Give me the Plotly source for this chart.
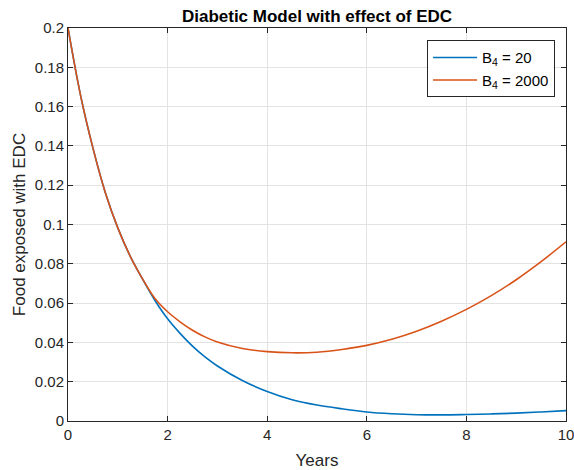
import plotly.graph_objects as go

# Food exposed with EDC over time, for two values of B4
years = [0, 0.25, 0.5, 0.75, 1.0, 1.25, 1.5, 1.75, 2.0, 2.25, 2.5, 2.75, 3.0,
         3.5, 4.0, 4.5, 5.0, 5.5, 6.0, 6.5, 7.0, 7.5, 8.0, 8.5, 9.0, 9.5, 10.0]

food_b20 = [0.2, 0.166, 0.139, 0.1162, 0.0983, 0.0838, 0.0721, 0.0612, 0.0520, 0.0446,
            0.0381, 0.0326, 0.0280, 0.0206, 0.0150, 0.0108, 0.0081, 0.0062, 0.0046,
            0.0037, 0.0032, 0.0031, 0.0033, 0.0036, 0.0040, 0.0046, 0.0053]

food_b2000 = [0.2, 0.166, 0.139, 0.1162, 0.0983, 0.0838, 0.0722, 0.0622, 0.0556, 0.0505,
              0.0462, 0.0428, 0.0402, 0.0369, 0.0353, 0.0347, 0.0350, 0.0364, 0.0385,
              0.0416, 0.0457, 0.0508, 0.0568, 0.0638, 0.0719, 0.0811, 0.0912]

x_ticks = [0, 2, 4, 6, 8, 10]
y_ticks = [0, 0.02, 0.04, 0.06, 0.08, 0.1, 0.12, 0.14, 0.16, 0.18, 0.2]
y_tick_text = ["0", "0.02", "0.04", "0.06", "0.08", "0.1", "0.12", "0.14", "0.16", "0.18", "0.2"]

FONT = "Liberation Sans, Arial, Helvetica, sans-serif"
INK = "#262626"
GRID = "#e3e3e3"

fig = go.Figure()
fig.add_trace(go.Scatter(
    x=years, y=food_b20, mode="lines", name="B<sub>4</sub> = 20",
    line=dict(color="#0072BD", width=1.6, shape="spline", smoothing=1.0),
))
fig.add_trace(go.Scatter(
    x=years, y=food_b2000, mode="lines", name="B<sub>4</sub> = 2000",
    line=dict(color="#D95319", width=1.6, shape="spline", smoothing=1.0),
))

axis_common = dict(
    showline=True, linecolor=INK, linewidth=1, mirror="ticks",
    ticks="inside", ticklen=5, tickcolor=INK, tickwidth=1,
    showgrid=True, gridcolor=GRID, gridwidth=1, zeroline=False,
    tickfont=dict(family=FONT, size=15, color=INK),
    ticklabeloverflow="allow", automargin=False,
)

fig.update_layout(
    width=574, height=470,
    margin=dict(l=68, r=8, t=28, b=49),
    paper_bgcolor="white", plot_bgcolor="white",
    font=dict(family=FONT, color=INK),
    title=dict(
        text="<b>Diabetic Model with effect of EDC</b>",
        x=(68 + 566) / 2 / 574, xanchor="center", y=1 - 16.5 / 470, yanchor="middle",
        font=dict(family=FONT, size=17, color="black"),
        automargin=False,
    ),
    xaxis=dict(
        range=[0, 10], tickvals=x_ticks,
        title=dict(text="Years", font=dict(family=FONT, size=17, color=INK), standoff=12),
        **axis_common,
    ),
    yaxis=dict(
        range=[0, 0.2], tickvals=y_ticks, ticktext=y_tick_text,
        title=dict(text="Food exposed with EDC", font=dict(family=FONT, size=17, color=INK), standoff=4),
        **axis_common,
    ),
    legend=dict(
        x=0.978, xanchor="right", y=0.969, yanchor="top",
        bgcolor="white", bordercolor=INK, borderwidth=1,
        font=dict(family=FONT, size=15, color="black"),
        itemwidth=44, tracegroupgap=2,
    ),
    showlegend=True,
)

fig.write_html("out.html")
